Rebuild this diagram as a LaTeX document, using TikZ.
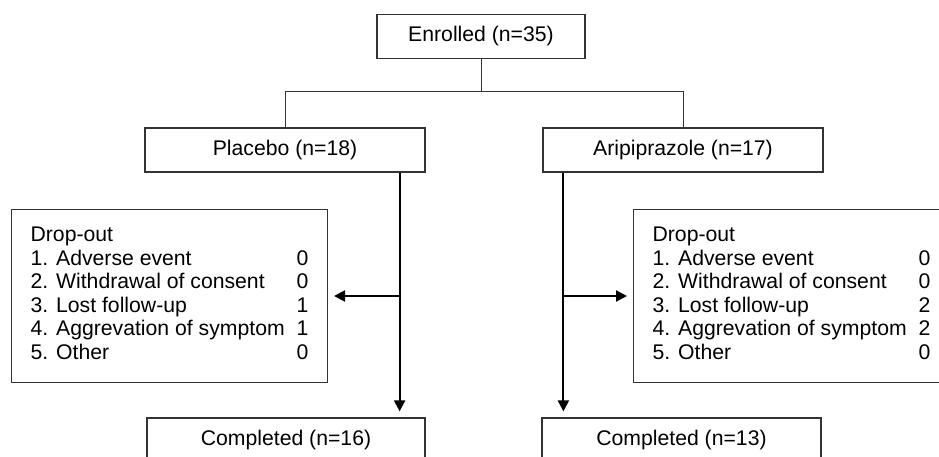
\documentclass[tikz,border=0pt]{standalone}
\usepackage{fontspec}
\setmainfont{Liberation Sans}
\usetikzlibrary{arrows.meta,calc}
\tikzset{
    box/.style = {
        draw = black!80,
        line width = 1.2pt,
        minimum height = 44pt,
        inner sep = 0pt,
        font = \fontsize{21.2}{23.5}\selectfont,
        },
    dropbox/.style = {
        box,
        minimum width = 315pt,
        minimum height = 173pt,
        inner xsep = 19pt,
        },
    tree/.style = {
        draw = black!80,
        line width = 1pt,
        },
    flow/.style = {
        draw = black,
        line width = 2pt,
        -{Triangle[length=11pt,width=11pt]},
        shorten > = 6pt,
        },
}
\newcommand{\droplist}[4]{%
    \begin{tabular}{@{}p{266pt}@{}l@{}}
        Drop-out & \\
        1. Adverse event & #1\\
        2. Withdrawal of consent & #2\\
        3. Lost follow-up & #3\\
        4. Aggrevation of symptom & #4\\
        5. Other & 0
    \end{tabular}}

\begin{document}
\begin{tikzpicture}[x=1pt, y=-1pt]
            \useasboundingbox (0,0) rectangle (939,457);

            \node[box, minimum width=208pt] (enrolled) at (481,36.5) {Enrolled (n=35)};
            \node[box, minimum width=280pt] (placebo) at (285,150) {Placebo (n=18)};
            \node[box, minimum width=280pt] (aripip) at (683,150) {Aripiprazole (n=17)};
            \node[dropbox] (dropL) at (169.5,296) {\droplist{0}{0}{1}{1}};
            \node[dropbox] (dropR) at (791.5,296) {\droplist{0}{0}{2}{2}};
            \node[box, minimum width=278pt] (complL) at (286,440) {Completed (n=16)};
            \node[box, minimum width=279pt] (complR) at (681.5,440) {Completed (n=13)};

            \coordinate (split) at ($(enrolled.south)+(0,32)$);
            \path[tree] (enrolled.south) -- (split);
            \path[tree] (placebo.north) |- (split) -| (aripip.north);

            \coordinate (trunkL) at ([xshift=-26pt]placebo.south east);
            \coordinate (trunkR) at ([xshift=21pt]aripip.south west);
            \path[flow] (trunkL) -- (trunkL |- complL.north);
            \path[flow] (trunkL |- dropL.east) -- (dropL.east);
            \path[flow] (trunkR) -- (trunkR |- complR.north);
            \path[flow] (trunkR |- dropR.west) -- (dropR.west);
        \end{tikzpicture}
\end{document}
